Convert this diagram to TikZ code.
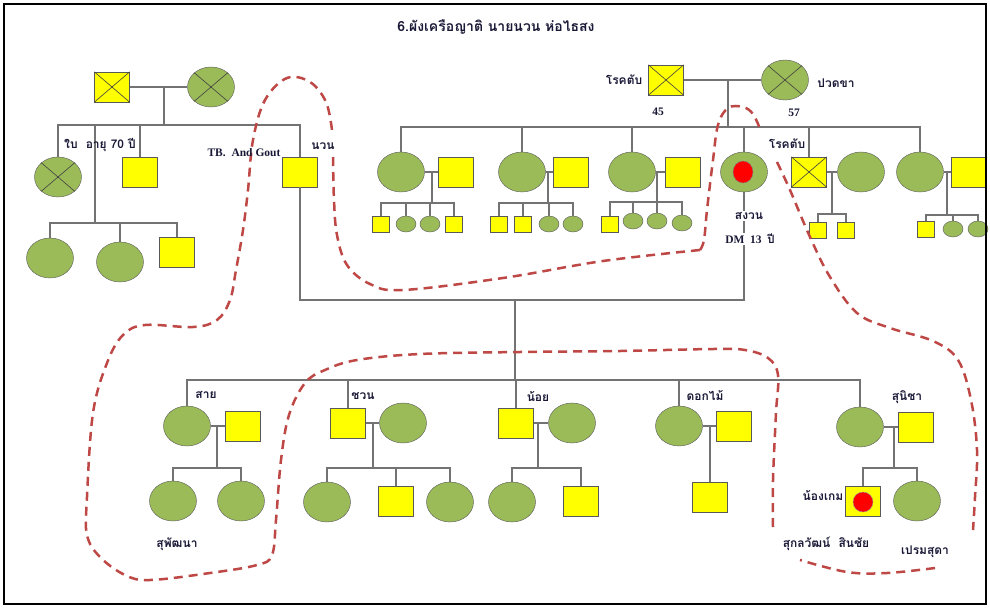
\documentclass[tikz,border=0pt]{standalone}
\usepackage{fontspec}
\setmainfont{Liberation Serif}
\newfontfamily\thaifont[Script=Thai]{Loma}
\usetikzlibrary{shapes.geometric}
\definecolor{kingreen}{RGB}{155,187,89}
\definecolor{kinyellow}{RGB}{255,255,0}
\definecolor{ringred}{RGB}{190,72,70}
\definecolor{inkblue}{RGB}{25,25,55}

\begin{document}
\begin{tikzpicture}[x=1pt,y=-1pt]
   \tikzstyle{male}=[draw=black!65, fill=kinyellow, minimum width=35, minimum height=30, inner sep=0]
   \tikzstyle{female}=[ellipse, draw=black!65, fill=kingreen, minimum width=47, minimum height=40, inner sep=0]
   \tikzstyle{smale}=[male, minimum width=17, minimum height=16]
   \tikzstyle{sfemale}=[female, minimum width=20, minimum height=16]
   \tikzstyle{kin}=[draw=black!55, line width=1.1pt]
   \tikzstyle{deadx}=[draw=black!75, line width=0.6pt]
   \tikzstyle{txt}=[font=\fontsize{11.5}{13}\selectfont\bfseries, text=inkblue, inner sep=1pt]
   \tikzstyle{thtxt}=[txt, font=\thaifont\fontsize{12}{14}\selectfont\bfseries]
   \tikzstyle{ringline}=[draw=ringred, line width=2.5pt, dash pattern=on 9pt off 6pt]

\fill[white] (0,0) rectangle (990,608);

% nuan's parents and siblings
\node[male] (gfL) at (112,87) {};
\node[female] (gmL) at (211,87) {};
\node[female] (bai) at (58,177) {};
\node[male] (baiH) at (140,172) {};
\node[male] (nuan) at (300,172) {};
\node[female] (baiK1) at (50,258) {};
\node[female] (baiK2) at (120,262) {};
\node[male] (baiK3) at (177,252) {};

% sanguan's parents and siblings
\node[male] (gfR) at (666,80) {};
\node[female] (gmR) at (785,80) {};
\node[female] (fA) at (401,172) {};
\node[male] (hA) at (456,172) {};
\node[smale] (kA1) at (381,224) {};
\node[sfemale] (kA2) at (406,224) {};
\node[sfemale] (kA3) at (430,224) {};
\node[smale] (kA4) at (454,224) {};
\node[female] (fB) at (522,172) {};
\node[male] (hB) at (571,172) {};
\node[smale] (kB1) at (499,224) {};
\node[smale] (kB2) at (523,224) {};
\node[sfemale] (kB3) at (549,224) {};
\node[sfemale] (kB4) at (573,224) {};
\node[female] (fC) at (632,172) {};
\node[male] (hC) at (683,172) {};
\node[smale] (kC1) at (610,224) {};
\node[sfemale] (kC2) at (633,221) {};
\node[sfemale] (kC3) at (657,221) {};
\node[sfemale] (kC4) at (682,223) {};
\node[female] (sanguan) at (744,172) {};
\node[ellipse, draw=black!50, fill=red, minimum width=20, minimum height=22, inner sep=0] (sanguanDot) at (743,172) {};
\node[male] (mD) at (809,172) {};
\node[female] (wD) at (861,172) {};
\node[smale] (kD1) at (818,230) {};
\node[smale] (kD2) at (846,230) {};
\node[female] (fE) at (920,172) {};
\node[male] (hE) at (969,172) {};
\node[smale] (kE1) at (926,229) {};
\node[sfemale] (kE2) at (953,229) {};
\node[sfemale] (kE3) at (978,229) {};

% children of nuan and sanguan
\node[female] (sai) at (187,426) {};
\node[male] (saiH) at (243,426) {};
\node[female] (saiK1) at (173,501) {};
\node[female] (saiK2) at (241,501) {};
\node[male] (chuan) at (348,423) {};
\node[female] (chuanW) at (403,423) {};
\node[female] (chK1) at (327,502) {};
\node[male] (chK2) at (396,501) {};
\node[female] (chK3) at (450,502) {};
\node[male] (noi) at (516,423) {};
\node[female] (noiW) at (572,423) {};
\node[female] (noiK1) at (512,502) {};
\node[male] (noiK2) at (581,501) {};
\node[female] (dokmai) at (679,426) {};
\node[male] (dokmaiH) at (734,426) {};
\node[male] (dokK1) at (710,497) {};
\node[female] (sunicha) at (860,427) {};
\node[male] (sunichaH) at (916,427) {};
\node[male] (game) at (863,501) {};
\node[circle, fill=red, draw=black!40, minimum size=20, inner sep=0] (gameDot) at (863,502) {};
\node[female] (premsuda) at (917,501) {};

% crosses for the deceased
\draw[deadx] (gfL.north west) -- (gfL.south east) (gfL.north east) -- (gfL.south west);
\draw[deadx] (gmL.north west) -- (gmL.south east) (gmL.north east) -- (gmL.south west);
\draw[deadx] (bai.north west) -- (bai.south east) (bai.north east) -- (bai.south west);
\draw[deadx] (gfR.north west) -- (gfR.south east) (gfR.north east) -- (gfR.south west);
\draw[deadx] (gmR.north west) -- (gmR.south east) (gmR.north east) -- (gmR.south west);
\draw[deadx] (mD.north west) -- (mD.south east) (mD.north east) -- (mD.south west);

% lines, top left
\coordinate (mL) at (164,87);
\coordinate (sL) at (164,125);
\coordinate (bL) at (95,125);
\coordinate (cL) at (95,223);
\draw[kin] (gfL) -- (gmL);
\draw[kin] (mL) -- (sL);
\draw[kin] (bai.north) |- (sL);
\draw[kin] (baiH.north) |- (sL);
\draw[kin] (nuan.north) |- (sL);
\draw[kin] (bL) -- (cL);
\draw[kin] (baiK1.north) |- (cL);
\draw[kin] (baiK2.north) |- (cL);
\draw[kin] (baiK3.north) |- (cL);

% lines, top right
\coordinate (mR) at (728,80);
\coordinate (sR) at (728,127);
\draw[kin] (gfR) -- (gmR);
\draw[kin] (mR) -- (sR);
\foreach \n in {fA,fB,fC,sanguan,mD,fE}
    \draw[kin] (\n.north) |- (sR);
\foreach \f/\h/\x/\y/\kids in {fA/hA/432/203/{kA1,kA2,kA3,kA4}, fB/hB/548/203/{kB1,kB2,kB3,kB4}, fC/hC/657/202/{kC1,kC2,kC3,kC4}, mD/wD/832/214/{kD1,kD2}, fE/hE/947/215/{kE1,kE2,kE3}} {
    \draw[kin] (\f) -- (\h);
    \coordinate (d) at (\x,172);
    \coordinate (k) at (\x,\y);
    \draw[kin] (d) -- (k);
    \foreach \c in \kids
        \draw[kin] (\c.north) |- (k);
}

% nuan and sanguan
\coordinate (uN) at (515,300);
\coordinate (uS) at (515,380);
\draw[kin] (nuan.south) |- (uN);
\draw[kin] (sanguan.south) |- (uN);
\draw[kin] (uN) -- (uS);
\foreach \n in {sai,chuan,noi,dokmai,sunicha}
    \draw[kin] (\n.north) |- (uS);
\foreach \f/\h/\x/\y/\kids in {sai/saiH/217/426/{saiK1,saiK2}, chuan/chuanW/373/423/{chK1,chK2,chK3}, noi/noiW/538/423/{noiK1,noiK2}, sunicha/sunichaH/894/427/{game,premsuda}} {
    \draw[kin] (\f) -- (\h);
    \coordinate (d) at (\x,\y);
    \coordinate (k) at (\x,468);
    \draw[kin] (d) -- (k);
    \foreach \c in \kids
        \draw[kin] (\c.north) |- (k);
}
\draw[kin] (dokmai) -- (dokmaiH);
\coordinate (dDok) at (710,426);
\draw[kin] (dDok) -- (dokK1.north);

% dashed ring
\draw[ringline] plot[smooth, tension=0.6] coordinates {(777,162) (790,190) (810,237) (830,277) (857,313) (890,328) (933,341) (958,360) (971,400) (977,450) (975,497) (973,530)};
\draw[ringline] plot[smooth, tension=0.6] coordinates {(935,568) (887,573) (847,572) (800,560)};
\draw[ringline] plot[smooth, tension=0.6] coordinates {(773,527) (773,480) (776,413) (778,375) (768,358) (745,350) (713,349) (620,351) (520,352) (420,354) (357,360) (325,370) (305,383) (289,415) (281,460) (276,520) (272,555) (257,565) (210,573) (150,580) (125,575) (100,557) (87,535) (87,497) (93,413) (107,363) (123,335) (145,325) (193,327) (217,320) (230,300) (236,270) (243,230) (248,190) (253,140) (265,100) (287,78) (310,82) (326,102) (332,130)};
\draw[ringline] plot[smooth, tension=0.6] coordinates {(333,157) (334,200) (337,235) (347,265) (370,284) (403,290) (503,278) (603,261) (700,250)};
\draw[ringline] plot[smooth, tension=0.6] coordinates {(700,250) (704,240) (707,210) (713,160) (718,125) (728,108) (743,107) (753,114) (760,129)};

% labels
\node[thtxt, font=\thaifont\fontsize{14}{16}\selectfont\bfseries] (title) at (496,27) {6.ผังเครือญาติ นายนวน ห่อไธสง};
\node[thtxt] (baiLbl) at (100,145) {ใบ\ \ อายุ 70 ปี};
\node[txt] (tbLbl) at (244,153) {TB.\ \ And Gout};
\node[thtxt] (nuanLbl) at (323,146) {นวน};
\node[thtxt] (gfRLbl) at (624,80) {โรคตับ};
\node[txt] (gfRAge) at (658,112) {45};
\node[txt] (gmRAge) at (794,113) {57};
\node[thtxt] (gmRLbl) at (836,83) {ปวดขา};
\node[thtxt] (mDLbl) at (787,144) {โรคตับ};
\node[thtxt, fill=white] (sanguanLbl) at (749,216) {สงวน};
\node[txt, fill=white] (dmLbl) at (750,239) {DM\ \ 13\ \ {\thaifont ปี}};
\node[thtxt] (saiLbl) at (206,395) {สาย};
\node[thtxt] (chuanLbl) at (363,396) {ชวน};
\node[thtxt] (noiLbl) at (538,397) {น้อย};
\node[thtxt] (dokmaiLbl) at (705,396) {ดอกไม้};
\node[thtxt] (sunichaLbl) at (907,397) {สุนิชา};
\node[thtxt] (supatLbl) at (177,544) {สุพัฒนา};
\node[thtxt] (gameLbl) at (823,496) {น้องเกม};
\node[thtxt] (sukolLbl) at (826,544) {สุกลวัฒน์\ \ สินชัย};
\node[thtxt] (premLbl) at (925,552) {เปรมสุดา};

\draw[black, line width=1.5pt] (4,4) rectangle (986,604);
\end{tikzpicture}
\end{document}
